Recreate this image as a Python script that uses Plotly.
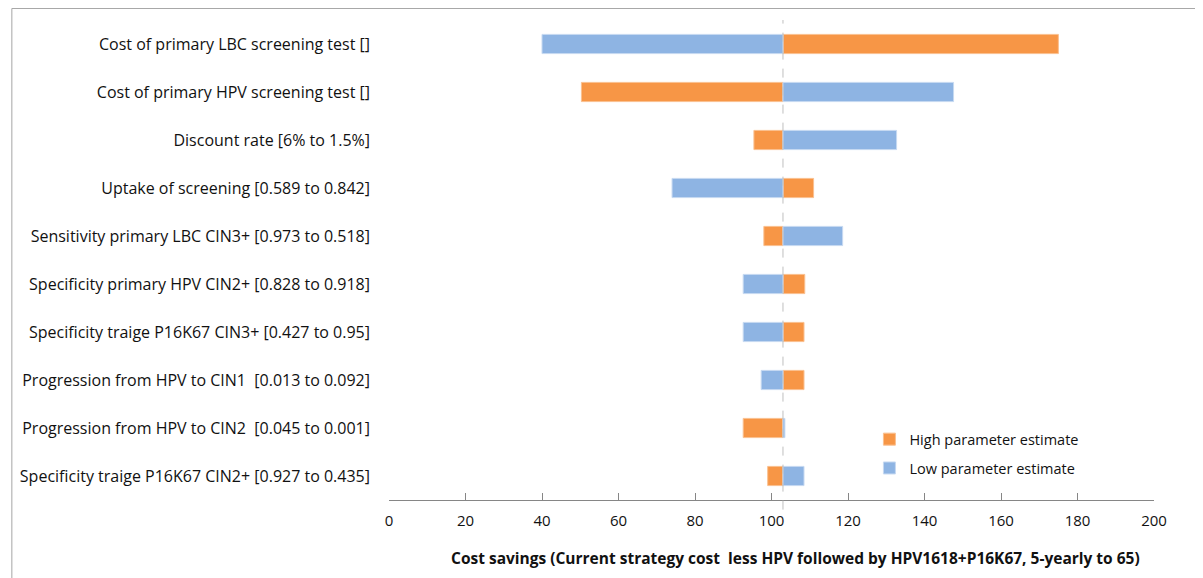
import plotly.graph_objects as go

# Parameters (top to bottom as shown)
parameters = [
    "Cost of primary LBC screening test []",
    "Cost of primary HPV screening test []",
    "Discount rate [6% to 1.5%]",
    "Uptake of screening [0.589 to 0.842]",
    "Sensitivity primary LBC CIN3+ [0.973 to 0.518]",
    "Specificity primary HPV CIN2+ [0.828 to 0.918]",
    "Specificity traige P16K67 CIN3+ [0.427 to 0.95]",
    "Progression from HPV to CIN1  [0.013 to 0.092]",
    "Progression from HPV to CIN2  [0.045 to 0.001]",
    "Specificity traige P16K67 CIN2+ [0.927 to 0.435]",
]

# Base-case cost saving and the result at each parameter extreme
base_value = 103
high_values = [175, 50.3, 95.4, 111, 98, 108.7, 108.5, 108.5, 92.6, 99]
low_values = [40, 147.6, 132.7, 74, 118.6, 92.6, 92.6, 97.3, 103.5, 108.5]

ticks = [0, 20, 40, 60, 80, 100, 120, 140, 160, 180, 200]

orange = "#F79646"
blue = "#8EB4E3"
font_family = "Open Sans, Calibri, Liberation Sans, sans-serif"

fig = go.Figure()

fig.add_trace(go.Bar(
    y=parameters,
    x=[v - base_value for v in high_values],
    base=base_value,
    orientation="h",
    name="High parameter estimate",
    legendgroup="high",
    marker=dict(color=orange, line=dict(color="#FAC090", width=1)),
    width=0.4,
))

fig.add_trace(go.Bar(
    y=parameters,
    x=[v - base_value for v in low_values],
    base=base_value,
    orientation="h",
    name="Low parameter estimate",
    legendgroup="low",
    marker=dict(color=blue, line=dict(color="#C6D9F1", width=1)),
    width=0.4,
))

# Dashed reference line at the base case
fig.add_shape(
    type="line", xref="x", yref="paper",
    x0=base_value, x1=base_value, y0=-0.02, y1=1,
    line=dict(color="#BFBFBF", width=1, dash="dash"),
    layer="above",
)

# Outer chart frame
fig.add_shape(
    type="rect", xref="paper", yref="paper",
    x0=-0.493, x1=1.057, y0=-0.25, y1=1.024,
    line=dict(color="#A6A6A6", width=1),
)

# X-axis title (sits slightly right of the plot centre, as in the original)
fig.add_annotation(
    text="<b>Cost savings (Current strategy cost  less HPV followed by HPV1618+P16K67, 5-yearly to 65)</b>",
    xref="paper", yref="paper",
    x=0.531, y=-0.121,
    xanchor="center", yanchor="middle",
    showarrow=False,
    font=dict(size=15.5),
)

fig.update_layout(
    width=1203,
    height=578,
    margin=dict(l=379, r=57, t=12, b=86),
    barmode="overlay",
    plot_bgcolor="white",
    paper_bgcolor="white",
    font=dict(family=font_family, size=16, color="#111111"),
    xaxis=dict(
        range=[0, 200],
        tickvals=ticks,
        showgrid=False,
        zeroline=False,
        showline=True,
        linecolor="#868686",
        ticks="inside",
        ticklen=7,
        tickcolor="#868686",
        ticklabelstandoff=7,
        tickfont=dict(size=15),
    ),
    yaxis=dict(
        categoryorder="array",
        categoryarray=parameters[::-1],
        showgrid=False,
        showline=False,
        ticks="",
        ticklabelstandoff=18,
    ),
    legend=dict(
        x=0.628, y=0.16,
        xanchor="left", yanchor="top",
        traceorder="grouped",
        tracegroupgap=7,
        itemwidth=30,
        font=dict(size=14.5),
        bgcolor="rgba(0,0,0,0)",
    ),
)

fig.write_html("out.html")
